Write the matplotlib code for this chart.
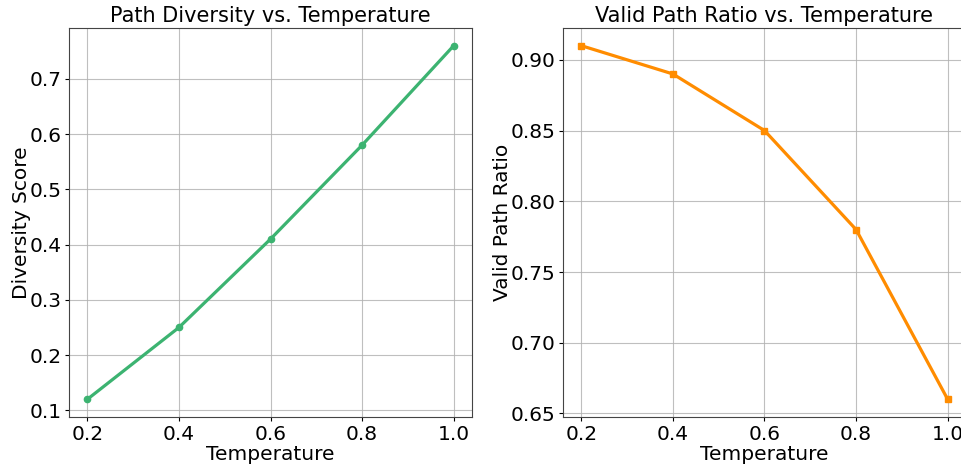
import matplotlib

matplotlib.use("Agg")
import matplotlib.pyplot as plt

temperature = [0.2, 0.4, 0.6, 0.8, 1.0]
diversity_score = [0.12, 0.25, 0.41, 0.58, 0.76]
valid_path_ratio = [0.91, 0.89, 0.85, 0.78, 0.66]

fig = plt.figure(figsize=(9.62, 4.66), dpi=100)
ax1 = fig.add_axes([69 / 962, 1 - 417 / 466, 403 / 962, 389 / 466])
ax2 = fig.add_axes([563 / 962, 1 - 417 / 466, 403 / 962, 389 / 466])

ax1.plot(temperature, diversity_score, color="mediumseagreen", marker="o",
         markersize=4.5, linewidth=2.3)
ax1.set_title("Path Diversity vs. Temperature", fontsize=15, pad=4)
ax1.set_xlabel("Temperature", fontsize=14.5, labelpad=1)
ax1.set_ylabel("Diversity Score", fontsize=14.5, labelpad=-1)

ax2.plot(temperature, valid_path_ratio, color="darkorange", marker="s",
         markersize=4.5, linewidth=2.3)
ax2.set_title("Valid Path Ratio vs. Temperature", fontsize=15, pad=4)
ax2.set_xlabel("Temperature", fontsize=14.5, labelpad=1)
ax2.set_ylabel("Valid Path Ratio", fontsize=14.5, labelpad=-1)

for ax in (ax1, ax2):
    ax.grid(True, color="#b0b0b0", alpha=0.8, linewidth=0.8)
    ax.tick_params(labelsize=14.5, length=3, pad=2.5)
    for s in ax.spines.values():
        s.set_color("#444444")

fig.savefig("out.png", dpi=100)
